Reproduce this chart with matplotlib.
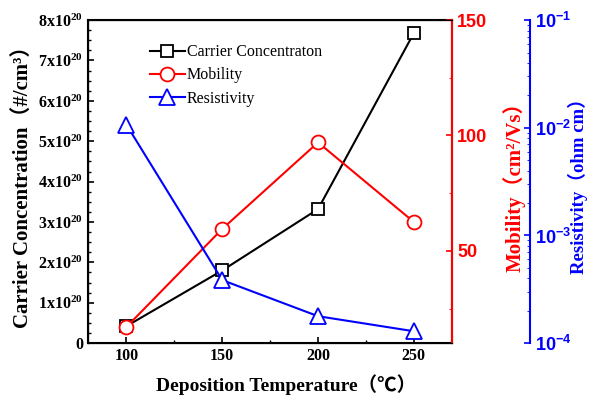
import matplotlib
matplotlib.use("Agg")
import matplotlib.pyplot as plt
from matplotlib.ticker import FixedLocator, LogLocator, NullFormatter

# data
temps = [100, 150, 200, 250]
carrier = [0.42e20, 1.80e20, 3.32e20, 7.68e20]
mobility = [17, 59.5, 97, 62.5]
resistivity = [1.07e-2, 3.85e-4, 1.78e-4, 1.29e-4]

plt.rcParams["mathtext.default"] = "regular"
serif = "Liberation Serif"
sans = "Liberation Sans"
label_fam = [serif, "Noto Sans CJK SC"]

fig = plt.figure(figsize=(5.95, 4.19), dpi=100)
ax = fig.add_axes([0.148, 0.181, 0.612, 0.771])

l1, = ax.plot(temps, carrier, color="black", marker="s", mfc="white", mec="black",
              ms=9, mew=1.3, lw=1.5, label="Carrier Concentraton")
ax.set_xlim(80, 270)
ax.set_ylim(0, 8e20)
ax.set_xticks([100, 150, 200, 250])
ax.xaxis.set_minor_locator(FixedLocator([125, 175, 225]))
ax.set_yticks([i * 1e20 for i in range(9)])
ax.set_yticklabels(["0"] + [r"%dx10$^{20}$" % i for i in range(1, 9)])
ax.yaxis.set_minor_locator(FixedLocator([i * 0.25e20 for i in range(33)]))
ax.tick_params(direction="in", length=4, width=1.2, labelsize=11.5)
ax.tick_params(which="minor", direction="in", length=2, width=1)
for lab in ax.get_xticklabels() + ax.get_yticklabels():
    lab.set_family(serif)
    lab.set_weight("bold")
for s in ax.spines.values():
    s.set_linewidth(1.5)
ax.set_xlabel("Deposition Temperature（℃）", family=label_fam, weight="bold", fontsize=14)
ax.xaxis.set_label_coords(0.545, -0.095)
ax.set_ylabel("Carrier Concentration（#/cm³）", family=label_fam, weight="bold", fontsize=15, labelpad=4)

# mobility axis
ax2 = ax.twinx()
l2, = ax2.plot(temps, mobility, color="red", marker="o", mfc="white", mec="red",
               ms=10, mew=1.3, lw=1.5, label="Mobility")
ax2.set_ylim(10, 150)
ax2.set_yticks([50, 100, 150])
ax2.yaxis.set_minor_locator(FixedLocator([25, 75, 125]))
ax2.spines["right"].set_color("red")
ax2.spines["right"].set_linewidth(1.5)
ax2.tick_params(axis="y", colors="red", direction="in", length=4, width=1.2, labelsize=13)
ax2.tick_params(axis="y", which="minor", colors="red", direction="in", length=2)
for lab in ax2.get_yticklabels():
    lab.set_family(sans)
    lab.set_weight("bold")
ax2.set_ylabel("Mobility（cm²/Vs）", color="red", family=label_fam, weight="bold", fontsize=15)
ax2.yaxis.set_label_coords(1.14, 0.5)

# resistivity axis
ax3 = ax.twinx()
ax3.spines["right"].set_position(("axes", 1.214))
ax3.spines["right"].set_color("blue")
ax3.spines["right"].set_linewidth(1.5)
l3, = ax3.plot(temps, resistivity, color="blue", marker="^", mfc="white", mec="blue",
               ms=11, mew=1.3, lw=1.5, label="Resistivity")
ax3.set_yscale("log")
ax3.set_ylim(1e-4, 1e-1)
ax3.yaxis.set_major_locator(FixedLocator([1e-4, 1e-3, 1e-2, 1e-1]))
ax3.yaxis.set_minor_locator(LogLocator(base=10, subs=range(2, 10)))
ax3.yaxis.set_minor_formatter(NullFormatter())
ax3.set_yticklabels([r"10$^{-4}$", r"10$^{-3}$", r"10$^{-2}$", r"10$^{-1}$"])
ax3.tick_params(axis="y", colors="blue", direction="in", length=4, width=1.2, labelsize=13)
ax3.tick_params(axis="y", which="minor", colors="blue", direction="in", length=2)
for lab in ax3.get_yticklabels():
    lab.set_family(sans)
    lab.set_weight("bold")
ax3.set_ylabel("Resistivity（ohm cm）", color="blue", family=label_fam, weight="bold", fontsize=13.5)
ax3.yaxis.set_label_coords(1.318, 0.5)

leg = ax.legend(handles=[l1, l2, l3], loc="upper left", bbox_to_anchor=(0.13, 0.97),
                frameon=False, prop={"family": serif, "size": 11.5},
                handlelength=2.2, handletextpad=0.1, labelspacing=0.45)

fig.savefig("out.png", dpi=100)
